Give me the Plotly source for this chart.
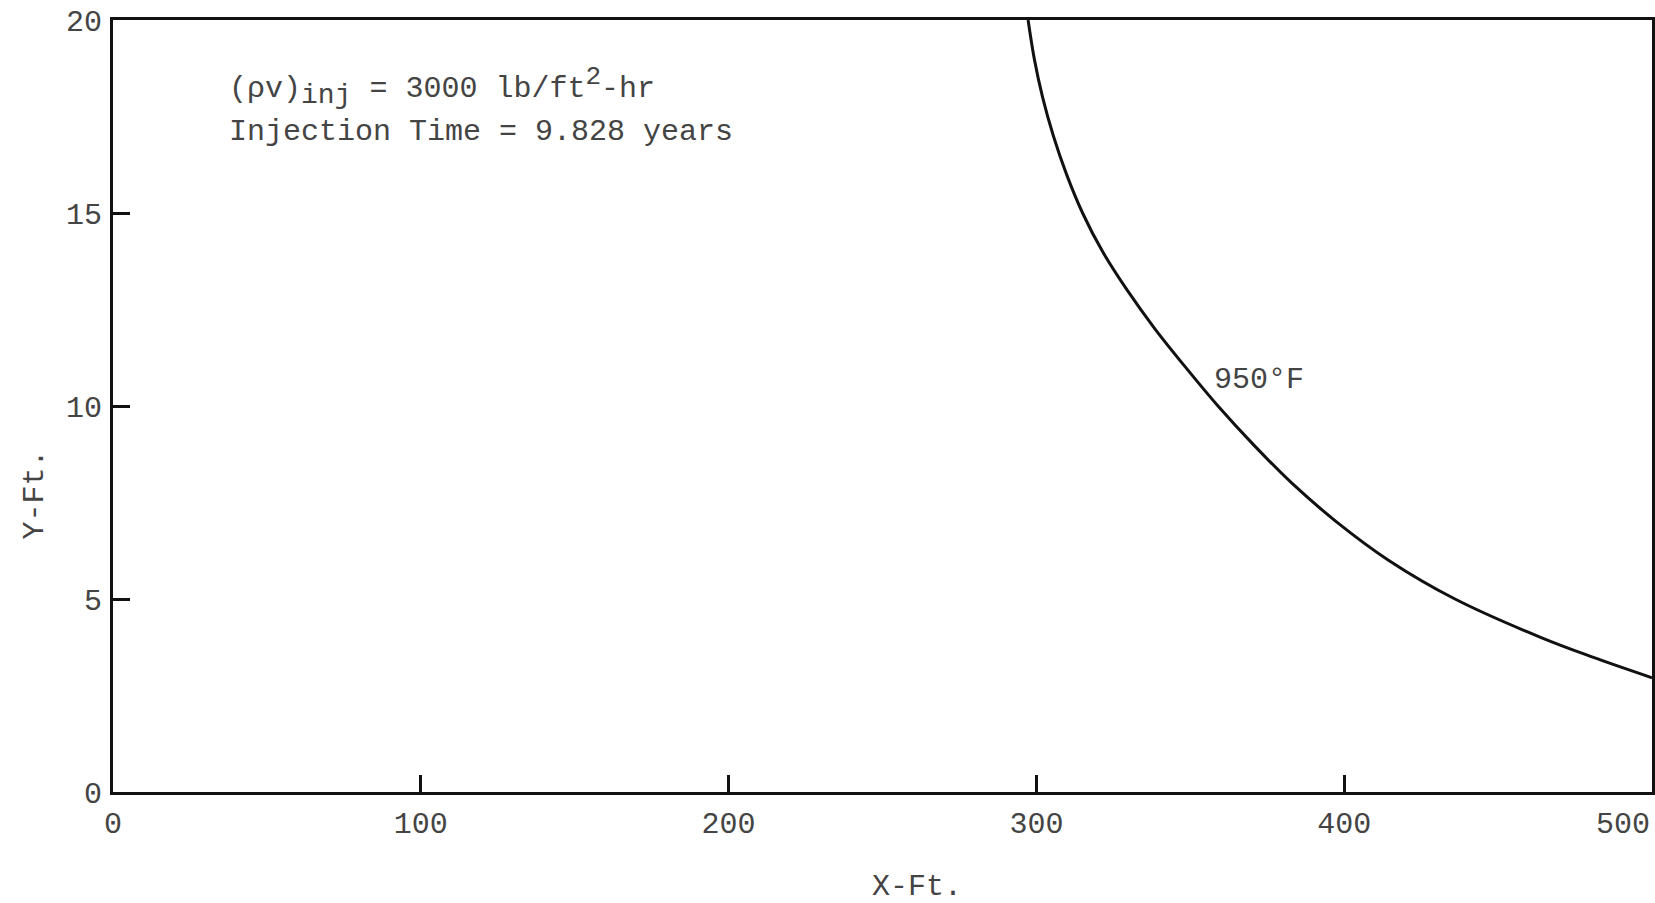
import plotly.graph_objects as go

# 950°F isotherm
y_ft = [20.0, 19.0, 18.0, 17.0, 16.0, 15.0, 14.0, 13.0, 12.0, 11.0, 10.0, 9.0, 8.0, 7.0, 6.0, 5.0, 4.0, 3.5, 2.96]
x_ft = [297.3, 299.3, 302.0, 305.5, 309.8, 315.0, 321.5, 329.5, 338.5, 348.5, 359.0, 370.5, 383.0, 397.5, 414.5, 436.0, 464.0, 480.5, 500.0]

x_ticks = [0, 100, 200, 300, 400, 500]
x_tick_text = ["0", "100", "200", "300", "400", ""]   # "500" drawn right-aligned below
last_x_label = "500"
y_ticks = [0, 5, 10, 15, 20]
y_tick_text = ["0", "5", "10", "15", "20"]

FONT = "Liberation Mono, Courier New, monospace"
TXT = "#444444"
LINE = "#111111"

fig = go.Figure()
fig.add_trace(go.Scatter(x=x_ft, y=y_ft, mode="lines",
                         line=dict(color=LINE, width=3, shape="spline", smoothing=1.0),
                         showlegend=False, hoverinfo="skip"))

fig.update_layout(
    width=1655, height=903,
    margin=dict(l=113, r=3, t=20, b=111),
    paper_bgcolor="white", plot_bgcolor="white",
    font=dict(family=FONT, size=30, color=TXT),
    showlegend=False,
)
fig.update_xaxes(range=[0, 500], tickvals=x_ticks, ticktext=x_tick_text,
                 ticks="inside", ticklen=17, tickwidth=3, tickcolor=LINE,
                 showline=True, linewidth=3, linecolor=LINE, mirror=True,
                 showgrid=False, zeroline=False, ticklabelstandoff=2,
                 automargin=False,
                 tickfont=dict(family=FONT, size=30, color=TXT))
fig.update_yaxes(range=[0, 20], tickvals=y_ticks, ticktext=y_tick_text,
                 ticks="inside", ticklen=17, tickwidth=3, tickcolor=LINE,
                 showline=True, linewidth=3, linecolor=LINE, mirror=True,
                 showgrid=False, zeroline=False, ticklabelstandoff=2,
                 automargin=False,
                 tickfont=dict(family=FONT, size=30, color=TXT))

line1 = ("(ρv)<sub><span style='font-size:28px'>inj</span></sub> = 3000 lb/ft"
         "<sup><span style='font-size:26px'>2</span></sup>-hr")
ann = [
    dict(text=line1, x=(227 - 113) / 1539, y=(791 - 86) / 771,
         xanchor="left", yanchor="middle"),
    dict(text="Injection Time = 9.828 years", x=(227 - 113) / 1539, y=(791 - 132) / 771,
         xanchor="left", yanchor="middle"),
    dict(text="950°F", x=(1212 - 113) / 1539, y=(791 - 380) / 771,
         xanchor="left", yanchor="middle"),
    dict(text="X-Ft.", x=(917 - 113) / 1539, y=-(886 - 791) / 771,
         xanchor="center", yanchor="middle"),
    dict(text="Y-Ft.", x=-(113 - 35) / 1539, y=(791 - 494) / 771, textangle=-90,
         xanchor="center", yanchor="middle"),
    dict(text=last_x_label, x=1.0, y=-(824 - 791) / 771,
         xanchor="right", yanchor="middle"),
]
for a in ann:
    fig.add_annotation(xref="paper", yref="paper", showarrow=False,
                       font=dict(family=FONT, size=30, color=TXT), **a)

fig.write_html("out.html")
